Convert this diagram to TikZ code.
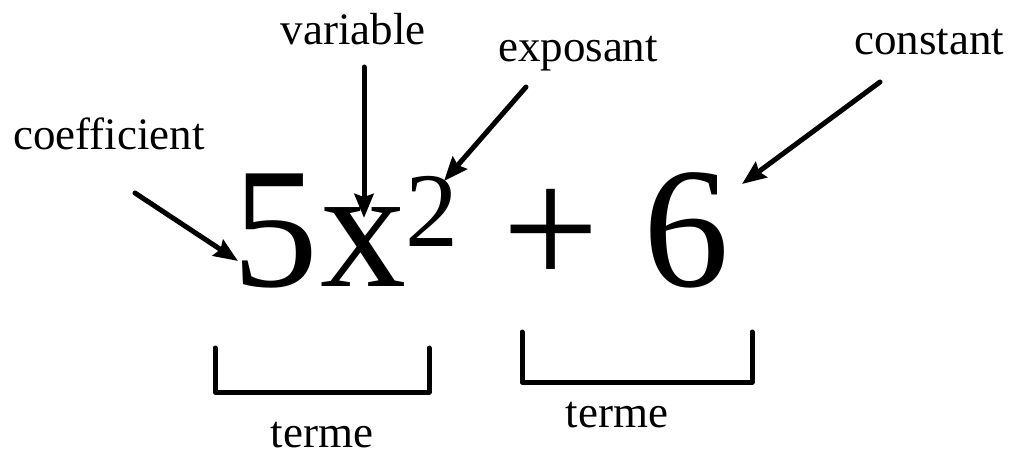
\documentclass[tikz,border=0pt]{standalone}
\usepackage{fontspec}
\setmainfont{Liberation Serif}
\usetikzlibrary{arrows.meta}
\begin{document}
\begin{tikzpicture}[x=1pt,y=-1pt,
  lbl/.style={inner sep=0pt,anchor=base,font=\fontsize{45}{54}\selectfont},
  big/.style={inner sep=0pt,anchor=base,font=\fontsize{172}{200}\selectfont},
  sup/.style={inner sep=0pt,anchor=base,font=\fontsize{106}{120}\selectfont},
  arr/.style={line width=5pt,line cap=round,-{Stealth[length=24pt,width=19pt,inset=3pt]}},
  brk/.style={line width=5pt,line cap=round,line join=round}]
\useasboundingbox (0,0) rectangle (1012,457);
% formula
\node[big] (five) at (275,287) {5};
\node[big] (x) at (363,287) {x};
\node[sup] (two) at (432,247) {2};
\node[big] (plus) at (551,287) {+};
\node[big] (six) at (686,287) {6};
% labels
\node[lbl] (coef) at (109,150) {coefficient};
\node[lbl] (var) at (353,45) {variable};
\node[lbl] (expo) at (578,62) {exposant};
\node[lbl] (const) at (929,55) {constant};
\node[lbl] (t1) at (322,447) {terme};
\node[lbl] (t2) at (617,427) {terme};
% arrow ends
\coordinate (c1) at (135,193);
\coordinate (c2) at (238,261);
\coordinate (v1) at (364,67);
\coordinate (v2) at (364,218);
\coordinate (e1) at (526,87);
\coordinate (e2) at (444,181);
\coordinate (k1) at (880,82);
\coordinate (k2) at (742,184);
\draw[arr] (c1) -- (c2);
\draw[arr] (v1) -- (v2);
\draw[arr] (e1) -- (e2);
\draw[arr] (k1) -- (k2);
% brackets
\coordinate (b1a) at (215,348);
\coordinate (b1b) at (429,392);
\coordinate (b2a) at (522,332);
\coordinate (b2b) at (752,382);
\draw[brk] (b1a) |- (b1b) -- (b1b |- b1a);
\draw[brk] (b2a) |- (b2b) -- (b2b |- b2a);
\end{tikzpicture}
\end{document}
